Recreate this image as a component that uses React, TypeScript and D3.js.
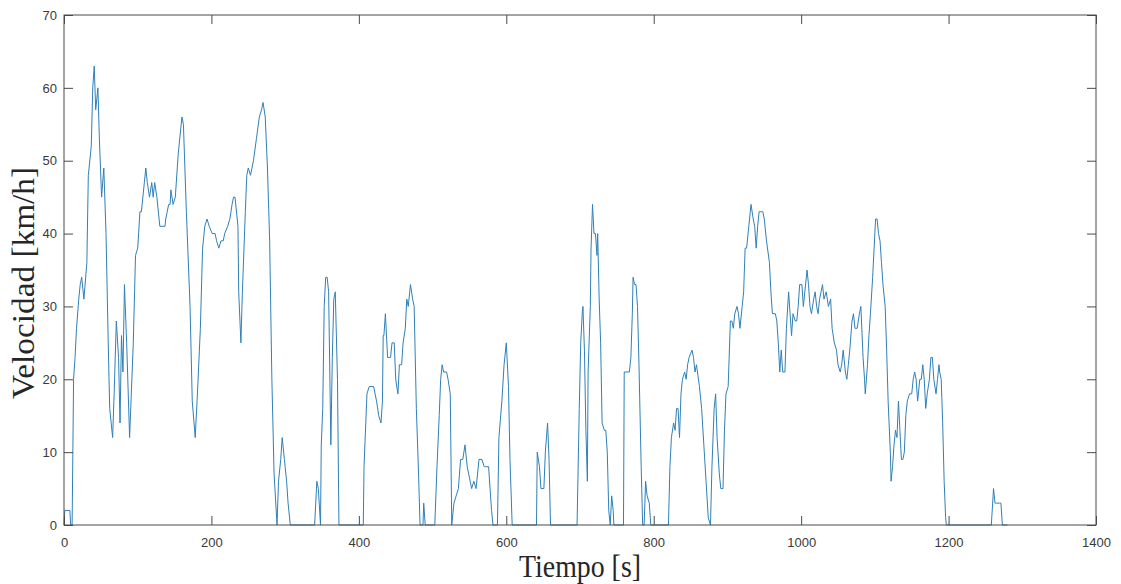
import { useRef, useEffect } from 'react';
import * as d3 from 'd3';

// Tiempo [s]
const TIME = [
  0, 1, 8, 9, 11, 13, 15, 17, 20, 22, 24, 27, 31, 33, 37, 39, 41, 43, 46, 48,
  51, 54, 57, 60, 62, 66, 68, 71, 74, 76, 78, 80, 82, 85, 89, 94, 97, 100, 103, 105,
  109, 111, 113, 116, 119, 121, 123, 126, 130, 137, 138, 142, 144, 145, 148, 151, 155, 160, 162, 166,
  171, 174, 178, 181, 185, 188, 191, 194, 197, 201, 205, 207, 210, 213, 216, 218, 222, 225, 228, 230,
  232, 236, 237, 240, 242, 246, 248, 250, 253, 257, 261, 265, 268, 270, 273, 276, 279, 282, 285, 289,
  291, 294, 296, 299, 302, 304, 307, 340, 343, 345, 348, 349, 351, 353, 355, 357, 359, 362, 364, 366,
  368, 371, 373, 406, 407, 411, 414, 420, 424, 427, 430, 432, 433, 434, 436, 439, 443, 445, 448, 450,
  453, 455, 458, 460, 463, 465, 467, 470, 473, 475, 478, 481, 483, 487, 488, 490, 503, 506, 509, 511,
  513, 515, 519, 521, 524, 526, 529, 532, 535, 538, 541, 544, 547, 551, 553, 556, 559, 561, 563, 567,
  570, 572, 576, 578, 580, 582, 588, 590, 594, 597, 600, 603, 605, 608, 641, 642, 645, 647, 651, 653,
  656, 658, 660, 696, 699, 701, 703, 704, 706, 708, 710, 711, 714, 715, 717, 719, 721, 723, 724, 726,
  728, 730, 733, 735, 737, 739, 741, 743, 745, 746, 759, 760, 767, 769, 771, 772, 774, 776, 778, 780,
  783, 785, 787, 789, 791, 794, 796, 820, 822, 824, 827, 829, 831, 833, 835, 837, 839, 842, 844, 846,
  848, 852, 854, 856, 858, 862, 865, 868, 871, 874, 877, 879, 882, 884, 886, 889, 891, 894, 896, 898,
  901, 904, 906, 908, 910, 913, 915, 917, 920, 922, 924, 926, 929, 930, 932, 935, 937, 939, 941, 943,
  946, 948, 950, 953, 957, 959, 961, 965, 967, 969, 971, 973, 975, 978, 980, 983, 985, 987, 989, 992,
  994, 996, 998, 1001, 1003, 1005, 1008, 1010, 1012, 1014, 1017, 1019, 1021, 1023, 1025, 1027, 1029, 1031, 1034, 1037,
  1040, 1042, 1045, 1048, 1050, 1053, 1055, 1057, 1060, 1062, 1064, 1066, 1069, 1071, 1073, 1076, 1079, 1081, 1084, 1086,
  1087, 1090, 1092, 1094, 1097, 1099, 1101, 1103, 1105, 1107, 1109, 1111, 1114, 1116, 1118, 1121, 1122, 1124, 1126, 1128,
  1130, 1132, 1134, 1136, 1138, 1140, 1142, 1144, 1147, 1150, 1152, 1154, 1156, 1158, 1161, 1163, 1165, 1167, 1169, 1171,
  1174, 1176, 1178, 1180, 1183, 1185, 1187, 1188, 1190, 1192, 1194, 1196, 1197, 1258, 1261, 1263, 1265, 1269, 1271, 1273,
  1280
];

// Velocidad [km/h]
const SPEED = [
  0, 2, 2, 0, 0, 20, 23, 27, 31, 33, 34, 31, 36, 48, 52, 60, 63, 57, 60, 53,
  45, 49, 40, 25, 16, 12, 18, 28, 23, 14, 26, 21, 33, 25, 12, 25, 37, 38, 43, 43,
  47, 49, 47, 45, 47, 45, 47, 45, 41, 41, 42, 44, 44, 46, 44, 45, 51, 56, 55, 43,
  30, 17, 12, 18, 27, 38, 41, 42, 41, 40, 40, 39, 38, 39, 39, 40, 41, 42, 44, 45,
  45, 41, 32, 25, 32, 43, 48, 49, 48, 50, 53, 56, 57, 58, 56, 49, 39, 20, 7, 0,
  6, 9, 12, 9, 6, 3, 0, 0, 6, 5, 0, 11, 16, 30, 34, 34, 32, 11, 23, 31,
  32, 20, 0, 0, 8, 18, 19, 19, 17, 15, 14, 17, 26, 26, 29, 23, 23, 25, 25, 20,
  18, 22, 22, 25, 27, 31, 30, 33, 31, 30, 16, 7, 0, 0, 3, 0, 0, 8, 15, 20,
  22, 21, 21, 20, 18, 0, 3, 4, 5, 9, 9, 11, 8, 6, 5, 6, 5, 7, 9, 9,
  8, 8, 8, 5, 2, 0, 0, 12, 17, 22, 25, 19, 9, 0, 0, 10, 8, 5, 5, 10,
  14, 9, 0, 0, 16, 25, 29, 30, 24, 13, 6, 21, 30, 38, 44, 40, 40, 37, 40, 31,
  25, 14, 13, 13, 10, 2, 0, 4, 2, 0, 0, 21, 21, 23, 29, 34, 33, 33, 30, 22,
  8, 0, 0, 6, 4, 3, 0, 0, 8, 12, 14, 13, 16, 16, 12, 18, 20, 21, 20, 22,
  23, 24, 23, 21, 22, 19, 16, 11, 6, 1, 0, 8, 16, 18, 12, 7, 5, 5, 13, 18,
  19, 28, 28, 27, 29, 30, 29, 27, 30, 32, 38, 38, 41, 42, 44, 42, 41, 38, 41, 43,
  43, 43, 42, 39, 36, 32, 29, 29, 28, 25, 21, 24, 21, 21, 27, 32, 29, 26, 29, 28,
  28, 30, 33, 33, 30, 32, 35, 33, 30, 29, 31, 32, 30, 29, 31, 32, 33, 31, 32, 30,
  31, 27, 25, 24, 22, 21, 22, 24, 21, 20, 22, 24, 28, 29, 27, 27, 29, 30, 23, 20,
  18, 22, 26, 29, 34, 38, 42, 42, 40, 39, 36, 33, 30, 24, 17, 10, 6, 8, 11, 13,
  12, 17, 13, 9, 9, 10, 15, 17, 18, 18, 20, 21, 20, 17, 20, 20, 22, 20, 16, 18,
  20, 23, 23, 20, 18, 20, 22, 21, 20, 14, 6, 1, 0, 0, 5, 3, 3, 3, 3, 0,
  0
];

const X_TICKS = [0, 200, 400, 600, 800, 1000, 1200, 1400];
const Y_TICKS = [0, 10, 20, 30, 40, 50, 60, 70];

const X_LABEL = "Tiempo [s]";
const Y_LABEL = "Velocidad [km/h]";

function SpeedChart() {
  const svgRef = useRef(null);

  useEffect(() => {
    const svg = d3.select(svgRef.current);
    svg.selectAll("*").remove();

    const totalW = 1121, totalH = 584;
    const margin = { top: 15, right: 25, bottom: 59, left: 64 };
    const width = totalW - margin.left - margin.right;
    const height = totalH - margin.top - margin.bottom;
    const tickLen = 9;
    const axisColor = "#4a4a4a";

    svg.attr("width", totalW).attr("height", totalH)
      .attr("viewBox", `0 0 ${totalW} ${totalH}`);

    svg.append("rect").attr("width", totalW).attr("height", totalH).attr("fill", "#fff");

    const g = svg.append("g")
      .attr("transform", `translate(${margin.left},${margin.top})`);

    const x = d3.scaleLinear().domain([0, 1400]).range([0, width]);
    const y = d3.scaleLinear().domain([0, 70]).range([height, 0]);

    const points = TIME.map((t, i) => ({ t, v: SPEED[i] }));

    // speed trace
    const line = d3.line()
      .x(d => x(d.t))
      .y(d => y(d.v));

    g.append("path")
      .datum(points)
      .attr("fill", "none")
      .attr("stroke", "#2f80b9")
      .attr("stroke-width", 1)
      .attr("stroke-linejoin", "round")
      .attr("d", line);

    // inward ticks on all four sides (MATLAB box on)
    const tickStyle = sel => {
      sel.select(".domain").remove();
      sel.selectAll(".tick line").attr("stroke", axisColor);
      sel.selectAll(".tick text")
        .attr("fill", "#3a3a3a")
        .style("font-family", "'Liberation Sans', Arial, Helvetica, sans-serif")
        .style("font-size", "13px");
    };

    const plain = d3.format("d");

    g.append("g")
      .attr("transform", `translate(0,${height})`)
      .call(d3.axisBottom(x).tickValues(X_TICKS).tickSize(-tickLen).tickPadding(13).tickFormat(plain))
      .call(tickStyle);

    g.append("g")
      .call(d3.axisTop(x).tickValues(X_TICKS).tickSize(-tickLen).tickFormat(""))
      .call(tickStyle);

    g.append("g")
      .call(d3.axisLeft(y).tickValues(Y_TICKS).tickSize(-tickLen).tickPadding(7).tickFormat(plain))
      .call(tickStyle);

    g.append("g")
      .attr("transform", `translate(${width},0)`)
      .call(d3.axisRight(y).tickValues(Y_TICKS).tickSize(-tickLen).tickFormat(""))
      .call(tickStyle);

    // box
    g.append("rect")
      .attr("width", width)
      .attr("height", height)
      .attr("fill", "none")
      .attr("stroke", axisColor)
      .attr("stroke-width", 1);

    // axis labels
    svg.append("text")
      .attr("x", margin.left + width / 2)
      .attr("y", 577)
      .attr("text-anchor", "middle")
      .attr("textLength", 122)
      .attr("lengthAdjust", "spacingAndGlyphs")
      .style("font-family", "'Liberation Serif', 'Times New Roman', serif")
      .style("font-size", "31px")
      .attr("fill", "#262626")
      .text(X_LABEL);

    svg.append("text")
      .attr("transform", `translate(34,${283}) rotate(-90)`)
      .attr("text-anchor", "middle")
      .attr("textLength", 232)
      .attr("lengthAdjust", "spacingAndGlyphs")
      .style("font-family", "'Liberation Serif', 'Times New Roman', serif")
      .style("font-size", "31px")
      .attr("fill", "#262626")
      .text(Y_LABEL);
  }, []);

  return <svg ref={svgRef} style={{ position: "absolute", left: 0, top: 0, display: "block" }}></svg>;
}

export default function App() {
  return <SpeedChart />;
}
